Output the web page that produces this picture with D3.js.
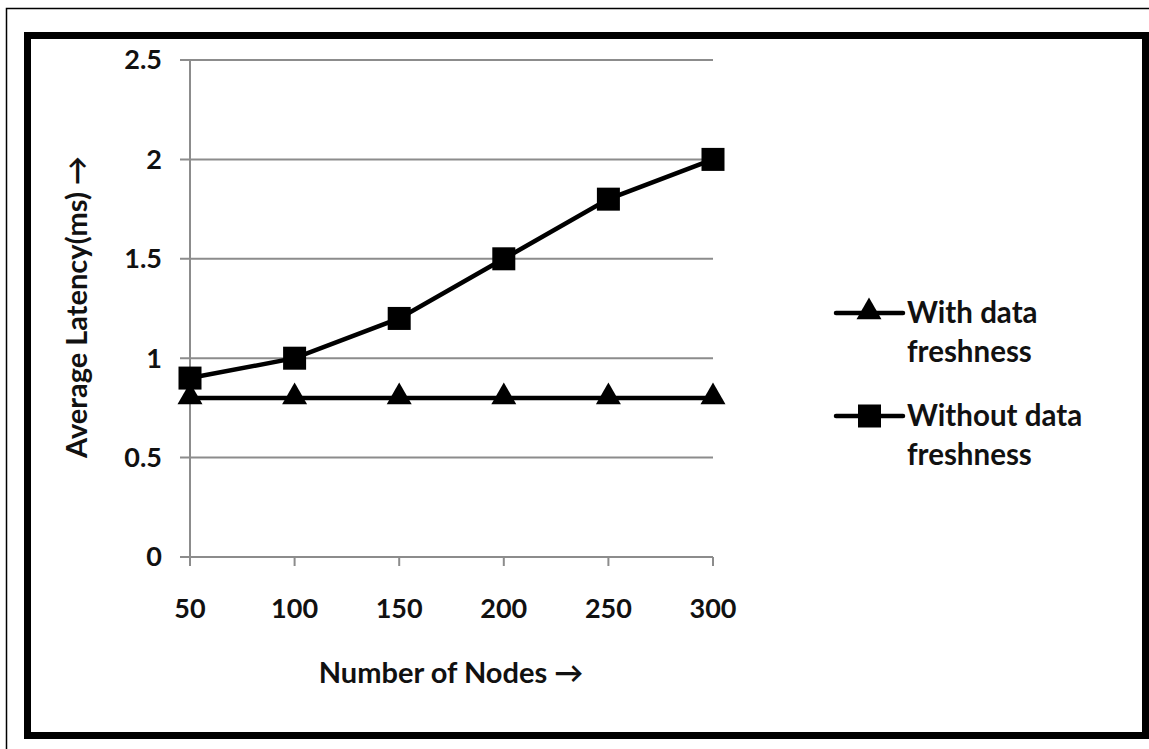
<!DOCTYPE html>
<html><head><meta charset="utf-8">
<script src="https://cdn.jsdelivr.net/npm/d3@7"></script>
<style>body{margin:0;background:#fff}svg{display:block}text{font-family:Lato,"Open Sans",sans-serif;fill:#111}</style>
</head><body>
<script>
const categories = [50, 100, 150, 200, 250, 300];
const withFreshness = [0.8, 0.8, 0.8, 0.8, 0.8, 0.8];
const withoutFreshness = [0.9, 1.0, 1.2, 1.5, 1.8, 2.0];
const yTicks = [0, 0.5, 1, 1.5, 2, 2.5];
const seriesNames = [["With data", "freshness"], ["Without data", "freshness"]];
const xTitle = "Number of Nodes \u2192";
const yTitle = "Average Latency(ms) \u2192";

const W = 1149, H = 749;
const svg = d3.select("body").append("svg").attr("width", W).attr("height", H);

// frames
svg.append("path").attr("d", `M6.5,${H} V8.5 H${W}`).attr("fill","none").attr("stroke","#000").attr("stroke-width",1.5);
svg.append("rect").attr("x",27.5).attr("y",35.5).attr("width",1118).attr("height",700)
  .attr("fill","#fff").attr("stroke","#000").attr("stroke-width",7);

const x = d3.scalePoint().domain(categories).range([190, 713]);
const y = d3.scaleLinear().domain([0, 2.5]).range([557, 60]);

// gridlines
svg.append("g").selectAll("line").data(yTicks).join("line")
  .attr("x1",180).attr("x2",713).attr("y1",d=>y(d)).attr("y2",d=>y(d))
  .attr("stroke","#8c8c8c").attr("stroke-width",2);
// y axis line
svg.append("line").attr("x1",190).attr("x2",190).attr("y1",y(2.5)).attr("y2",y(0)+9)
  .attr("stroke","#8c8c8c").attr("stroke-width",2);
// x ticks
svg.append("g").selectAll("line").data(categories).join("line")
  .attr("x1",d=>x(d)).attr("x2",d=>x(d)).attr("y1",y(0)).attr("y2",y(0)+9)
  .attr("stroke","#8c8c8c").attr("stroke-width",2);

// y tick labels
svg.append("g").selectAll("text").data(yTicks).join("text")
  .attr("x",162).attr("y",d=>y(d)).attr("dy","0.35em").attr("text-anchor","end")
  .attr("font-size",27).attr("font-weight","bold").text(d=>d);
// x tick labels
svg.append("g").selectAll("text").data(categories).join("text")
  .attr("x",d=>x(d)).attr("y",609).attr("dy","0.35em").attr("text-anchor","middle")
  .attr("font-size",27).attr("font-weight","bold").text(d=>d);

svg.append("text").attr("x",451).attr("y",673).attr("dy","0.35em").attr("text-anchor","middle")
  .attr("font-size",29).attr("font-weight","bold").text(xTitle);
svg.append("text").attr("transform","translate(77,307) rotate(-90)").attr("dy","0.35em").attr("text-anchor","middle")
  .attr("font-size",29).attr("font-weight","bold").text(yTitle);

const line = d3.line().x((d,i)=>x(categories[i])).y(d=>y(d));
const tri = d3.symbol().type(d3.symbolTriangle).size(270);

function drawSeries(vals, marker) {
  svg.append("path").datum(vals).attr("d", line).attr("fill","none").attr("stroke","#000").attr("stroke-width",4.5);
  const g = svg.append("g");
  if (marker === "tri") {
    g.selectAll("path").data(vals).join("path").attr("d", tri)
      .attr("transform",(d,i)=>`translate(${x(categories[i])},${y(d)-1})`).attr("fill","#000");
  } else {
    g.selectAll("rect").data(vals).join("rect")
      .attr("x",(d,i)=>x(categories[i])-11.5).attr("y",d=>y(d)-11.5).attr("width",23).attr("height",23).attr("fill","#000");
  }
}
drawSeries(withoutFreshness, "sq");
drawSeries(withFreshness, "tri");

// legend
const legY = [313, 416];
const markers = ["tri","sq"];
legY.forEach((ly, k) => {
  svg.append("line").attr("x1",836).attr("x2",903).attr("y1",ly).attr("y2",ly).attr("stroke","#000").attr("stroke-width",4.5).attr("stroke-linecap","round");
  if (markers[k]==="tri") svg.append("path").attr("d",tri).attr("transform",`translate(869,${ly-1})`).attr("fill","#000");
  else svg.append("rect").attr("x",858).attr("y",ly-11.5).attr("width",23).attr("height",23).attr("fill","#000");
  seriesNames[k].forEach((s,j)=>{
    svg.append("text").attr("x",907).attr("y",ly + j*39).attr("dy","0.35em").attr("font-size",29.5).attr("font-weight","bold").text(s);
  });
});
</script>
</body></html>
